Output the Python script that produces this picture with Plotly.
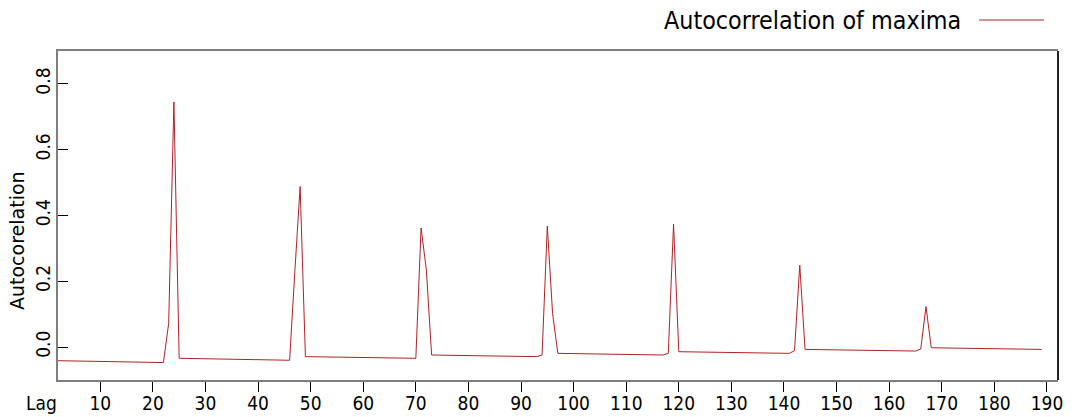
import plotly.graph_objects as go

# Vertices of the autocorrelation line (lag, value)
lags = [1, 22, 23, 24, 25, 46, 47, 48, 49, 70, 71, 72, 73, 93, 94, 95, 96, 97,
        117, 118, 119, 120, 141, 142, 143, 144, 165, 166, 167, 168, 189]
acf = [-0.041, -0.047, 0.072, 0.745, -0.034, -0.040, 0.232, 0.488, -0.029,
       -0.034, 0.362, 0.234, -0.024, -0.029, -0.024, 0.368, 0.102, -0.019,
       -0.024, -0.019, 0.374, -0.014, -0.019, -0.011, 0.249, -0.007, -0.012,
       -0.006, 0.123, -0.002, -0.007]

x_ticks = list(range(10, 200, 10))
y_ticks = [0.0, 0.2, 0.4, 0.6, 0.8]
y_tick_labels = ["0.0", "0.2", "0.4", "0.6", "0.8"]

series_name = "Autocorrelation of maxima"
line_color = "#b22222"
cond = "DejaVu Sans Condensed, DejaVu Sans, sans-serif"

fig = go.Figure()
fig.add_trace(go.Scatter(x=lags, y=acf, mode="lines", name=series_name,
                         line=dict(color=line_color, width=1), showlegend=False))

fig.update_layout(
    template="none",
    width=1075, height=417,
    margin=dict(l=58, r=17, t=51, b=37, autoexpand=False),
    paper_bgcolor="white", plot_bgcolor="white",
    xaxis=dict(range=[1.96, 192.1], tickvals=x_ticks, ticks="outside", ticklen=10,
               tickcolor="black", tickwidth=1, showgrid=False, zeroline=False,
               showline=True, linecolor="#7f7f7f", linewidth=2, mirror=True,
               automargin=False, ticklabelstandoff=-5,
               tickfont=dict(family=cond, size=19, color="black")),
    yaxis=dict(range=[-0.1, 0.9], tickvals=y_ticks, ticktext=y_tick_labels,
               ticks="inside", ticklen=10, tickcolor="black", tickwidth=1,
               tickangle=-90, showgrid=False, zeroline=False,
               showline=True, linecolor="#7f7f7f", linewidth=2,
               automargin=False, ticklabelstandoff=-2,
               tickfont=dict(family=cond, size=19, color="black")),
    annotations=[
        dict(text="Lag", xref="paper", yref="paper", x=-0.0165, y=-0.07,
             xanchor="center", yanchor="middle", showarrow=False,
             font=dict(family=cond, size=19, color="black")),
        dict(text="Autocorelation", xref="paper", yref="paper", x=-0.041, y=0.4225,
             xanchor="center", yanchor="middle", textangle=-90, showarrow=False,
             font=dict(family="DejaVu Sans, sans-serif", size=19, color="black")),
        dict(text=series_name, xref="paper", yref="paper", x=0.905, y=1.094,
             xanchor="right", yanchor="middle", showarrow=False,
             font=dict(family=cond, size=24.8, color="black")),
    ],
    shapes=[
        dict(type="line", xref="paper", yref="paper", x0=1, x1=1, y0=0, y1=1,
             line=dict(color="#222222", width=2)),
        dict(type="line", xref="paper", yref="paper", x0=0.921, x1=0.986,
             y0=1.0942, y1=1.0942, line=dict(color=line_color, width=1)),
    ],
)

fig.write_html("out.html")
